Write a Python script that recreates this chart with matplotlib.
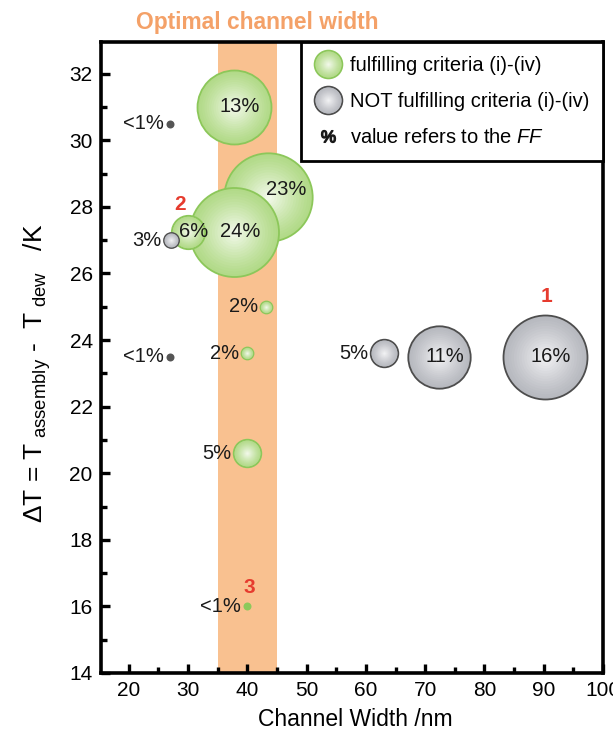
import numpy as np
import matplotlib
matplotlib.use("Agg")
import matplotlib.pyplot as plt
from matplotlib.lines import Line2D
from matplotlib.colors import to_rgb

plt.rcParams['font.family'] = ['Liberation Sans', 'DejaVu Sans']
plt.rcParams['mathtext.fontset'] = 'custom'
plt.rcParams['mathtext.rm'] = 'Liberation Sans'
plt.rcParams['mathtext.it'] = 'Liberation Sans:italic'

# bubbles in drawing order: channel width (nm), delta T (K), fill factor (%), fulfils criteria?
width_nm = [37.7, 43.5, 37.8, 30.0, 27.1, 27.0, 27.0, 43.1, 40.0, 40.0, 40.0, 63.1, 72.3, 90.2]
delta_t = [31.0, 28.3, 27.25, 27.25, 27.0, 30.5, 23.5, 25.0, 23.6, 20.6, 16.0, 23.6, 23.5, 23.5]
ff_pct = [13, 23, 24, 6, 3, 0.5, 0.5, 2, 2, 5, 0.5, 5, 11, 16]
fulfils = [True, True, True, True, False, False, False, True, True, True, True, False, False, False]
# where the percentage sits: inside the bubble or to its left
label_side = ['in', 'in', 'in', 'in', 'left', 'left', 'left', 'left', 'left', 'left', 'left',
              'left', 'in', 'in']

# numbered examples
example_ids = ['1', '2', '3']
example_x = [90.4, 28.6, 40.25]
example_y = [25.3, 28.07, 16.58]

optimal_band = (35, 45)

# bubble radius (px) as a function of FF
size_ff = [1, 2, 3, 5, 13, 16, 24]
size_px = [4, 6, 7.5, 13.8, 37, 42, 44.5]

GREEN_OUT, GREEN_IN, GREEN_EDGE = '#b2da88', '#f6fbf0', '#8cc75a'
GREY_OUT, GREY_IN, GREY_EDGE = '#b7b9bf', '#f6f6f8', '#4d4d4d'
GREEN_DOT, GREY_DOT = '#8cc95b', '#555555'


def gradient_layers(out_c, in_c, n=16):
    """Scale factors and colours for a radial fill made of stacked discs."""
    o, i = np.array(to_rgb(out_c)), np.array(to_rgb(in_c))
    scales = np.linspace(1.0, 0.08, n)
    cols = [tuple(o + (i - o) * (1 - f) ** 1.2) for f in scales]
    return scales, cols


def draw_bubble(ax, x, y, r_px, good):
    r_pt = r_px * 72 / 100
    if r_px <= 4.5:
        ax.scatter([x], [y], s=(2 * r_pt) ** 2, color=GREEN_DOT if good else GREY_DOT,
                   linewidths=0, zorder=3)
        return
    out_c, in_c, edge = (GREEN_OUT, GREEN_IN, GREEN_EDGE) if good else (GREY_OUT, GREY_IN, GREY_EDGE)
    scales, cols = gradient_layers(out_c, in_c)
    for k, (f, c) in enumerate(zip(scales, cols)):
        if k == 0:
            ax.scatter([x], [y], s=(2 * r_pt) ** 2, color=c, edgecolors=edge,
                       linewidths=1.3, zorder=3)
        else:
            ax.scatter([x], [y], s=(2 * r_pt * f) ** 2, color=c, linewidths=0, zorder=3)


fig = plt.figure(figsize=(6.13, 7.37), dpi=100)
ax = fig.add_axes([101 / 613, 64 / 737, 502 / 613, 631 / 737])

ax.axvspan(*optimal_band, color='#f9c190', lw=0, zorder=0)

for x, y, ff, good, side in zip(width_nm, delta_t, ff_pct, fulfils, label_side):
    r = np.interp(ff, size_ff, size_px)
    draw_bubble(ax, x, y, r, good)
    txt = '<1%' if ff < 1 else f'{ff:g}%'
    if side == 'in':
        off = (13, 5) if ff == 23 else (4, 0)
        ax.annotate(txt, (x, y), xytext=off, textcoords='offset points',
                    ha='center', va='center', fontsize=14.5, color='#1a1a1a', zorder=4)
    else:
        ax.annotate(txt, (x, y), xytext=(-(r * 0.72 + 1.5), 0), textcoords='offset points',
                    ha='right', va='center', fontsize=14.5, color='#1a1a1a', zorder=4)

for lab, x, y in zip(example_ids, example_x, example_y):
    ax.text(x, y, lab, ha='center', va='center', fontsize=15, fontweight='bold',
            color='#e63b2e', zorder=5)

ax.set_xlim(15.3, 100)
ax.set_ylim(14, 32.95)
ax.set_xticks(np.arange(20, 101, 10))
ax.set_xticks(np.arange(25, 100, 10), minor=True)
ax.set_yticks(np.arange(14, 33, 2))
ax.set_yticks(np.arange(15, 33, 2), minor=True)
ax.tick_params(which='both', direction='in', width=2.4, labelsize=15, pad=6,
               top=False, right=False)
ax.tick_params(which='major', length=6.5)
ax.tick_params(which='minor', length=4)
for sp in ax.spines.values():
    sp.set_linewidth(2.6)

ax.set_xlabel('Channel Width /nm', fontsize=16.5)
ax.xaxis.set_label_coords(0.506, -0.056)
ax.set_ylabel('ΔT = T$_{\\mathrm{\\ assembly}}$ -  T$_{\\mathrm{\\ dew}}$   /K', fontsize=19)
ax.yaxis.set_label_coords(-0.095, 0.475)

fig.text(257 / 613, 1 - 22 / 737, 'Optimal channel width', ha='center', va='center',
         fontsize=16.4, fontweight='bold', color='#f4a168')


def legend_marker(out_c, in_c, edge):
    scales, cols = gradient_layers(out_c, in_c)
    parts = [Line2D([], [], ls='', marker='o', markersize=20, markerfacecolor=cols[0],
                    markeredgecolor=edge, markeredgewidth=1.3)]
    for f, c in zip(scales[1:], cols[1:]):
        parts.append(Line2D([], [], ls='', marker='o', markersize=20 * f,
                            markerfacecolor=c, markeredgewidth=0))
    return tuple(parts)


handles = [legend_marker(GREEN_OUT, GREEN_IN, GREEN_EDGE),
           legend_marker(GREY_OUT, GREY_IN, GREY_EDGE),
           Line2D([], [], ls='', marker='$\\%$', markersize=10, color='#1a1a1a')]
labels = ['fulfilling criteria (i)-(iv)', 'NOT fulfilling criteria (i)-(iv)',
          'value refers to the $\\mathit{FF}$']
leg = ax.legend(handles, labels, loc='upper right', borderaxespad=0, fontsize=14.5,
                frameon=True, fancybox=False, edgecolor='black', framealpha=1,
                handlelength=1.25, handletextpad=0.45, labelspacing=0.85, borderpad=0.7)
leg.get_frame().set_linewidth(2)
leg.set_zorder(6)

fig.savefig('out.png', dpi=100)
